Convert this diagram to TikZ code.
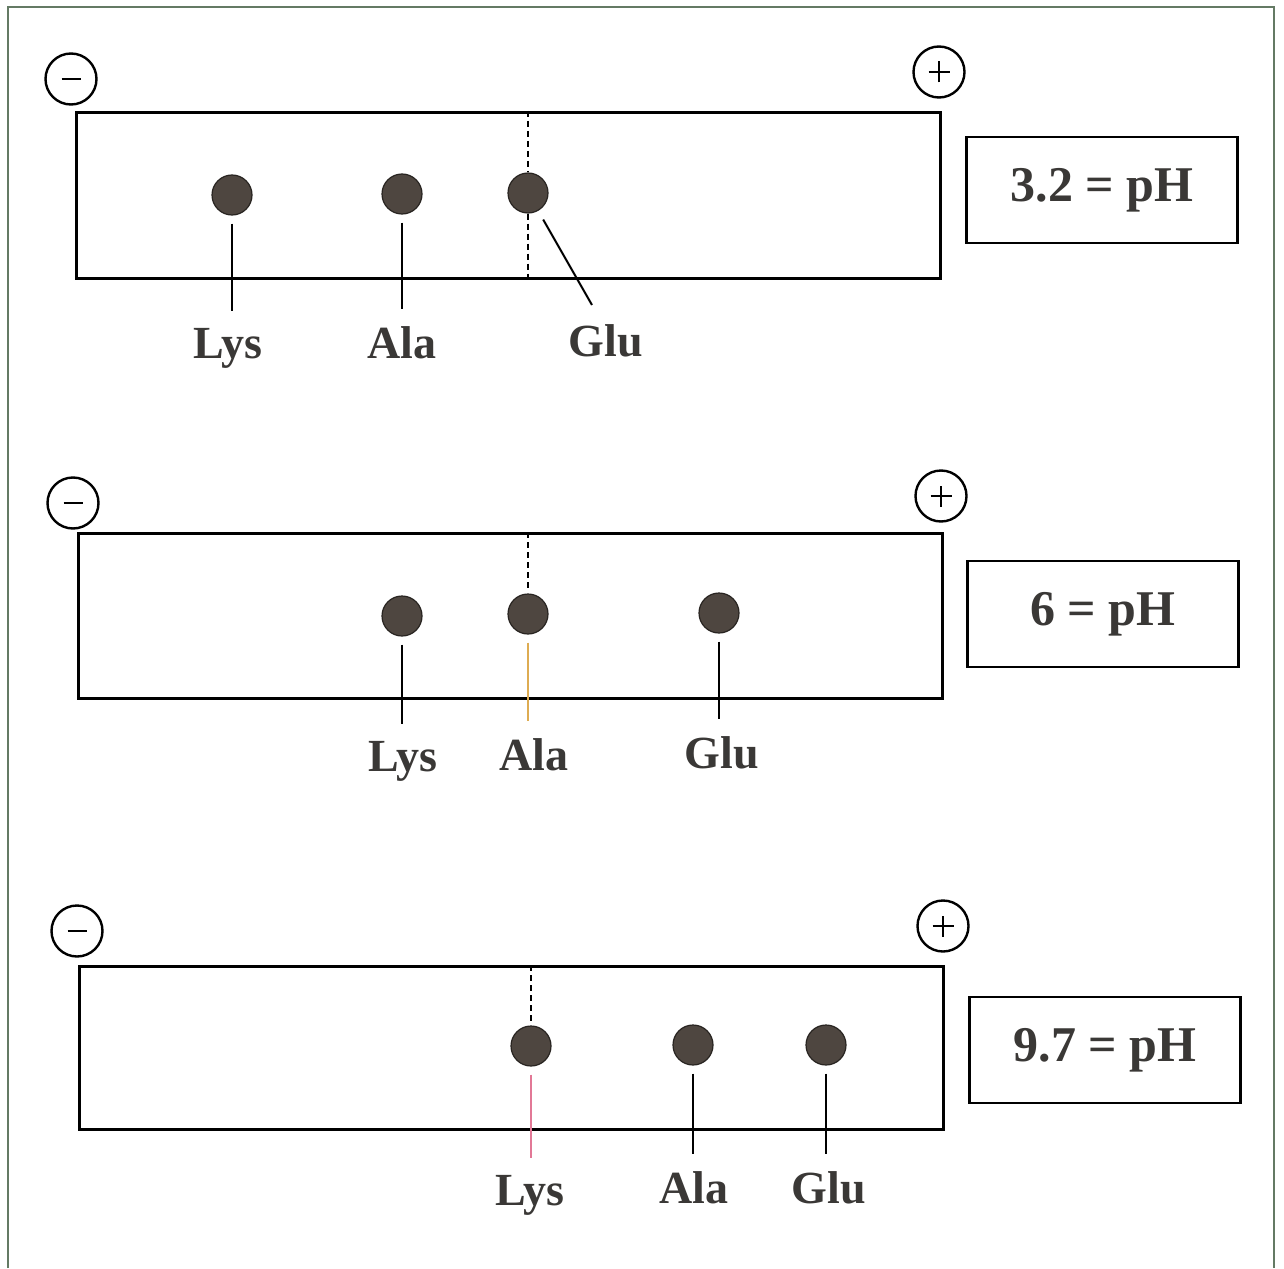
\documentclass[tikz,border=0pt]{standalone}
\usepackage{fontspec}
\setmainfont{Liberation Serif}
\definecolor{ink}{RGB}{58,56,54}
\definecolor{dotfill}{RGB}{78,70,64}
\definecolor{dotline}{RGB}{40,36,33}
\definecolor{framec}{RGB}{100,122,100}
\definecolor{orangel}{RGB}{222,172,82}
\definecolor{pinkl}{RGB}{226,120,150}
\begin{document}
\begin{tikzpicture}[x=1pt,y=-1pt,
  strip/.style={draw, line width=2.6pt, minimum width=864pt, inner sep=0pt, anchor=north west},
  phbox/.style={draw, line width=2.6pt, minimum width=271pt, minimum height=106pt, inner sep=0pt,
     font=\fontsize{50}{54}\selectfont\bfseries, text=ink},
  pole/.style={circle, draw, line width=2.4pt, minimum size=51pt, inner sep=0pt},
  sign/.style={line width=2.6pt},
  spot/.style={circle, fill=dotfill, draw=dotline, line width=1.2pt, minimum size=40pt, inner sep=0pt},
  lbl/.style={font=\fontsize{46}{50}\selectfont\bfseries, text=ink, inner sep=0pt, anchor=base},
  leader/.style={line width=2pt, shorten <=8pt, shorten >=17pt},
  iso/.style={line width=2.4pt, dash pattern=on 6pt off 4pt},
  frame/.style={draw=framec, line width=2.4pt}]
\useasboundingbox (0,0) rectangle (1284,1268);
\fill[white] (0,0) rectangle (1284,1268);
% outer frame
\draw[frame] (8,1268) -- (8,7) -- (1274,7) -- (1274,1268);

% ---------- panel 1 : pH 3.2 ----------
\node[strip, minimum height=166pt] (r1) at (75,111) {};
\node[pole] (m1) at (71,79) {};
\draw[sign] ([xshift=-9.5pt]m1.center) -- ([xshift=9.5pt]m1.center);
\node[pole] (p1) at (939,72) {};
\draw[sign, line width=2pt] ([xshift=-10.5pt]p1.center) -- ([xshift=10.5pt]p1.center)
  ([yshift=-10.5pt]p1.center) -- ([yshift=10.5pt]p1.center);
\node[phbox] (ph1) at (1102,190) {3.2 = pH};
\node[spot] (d11) at (232,195) {};
\node[spot] (d12) at (402,194) {};
\node[spot] (d13) at (528,193) {};
\draw[iso] (d13.north |- r1.north) -- (d13.north);
\draw[iso] (d13.south) -- (d13.south |- r1.south);
\node[lbl] (l11) at (228,358) {Lys};
\node[lbl] (l12) at (402,358) {Ala};
\node[lbl] (l13) at (606,356) {Glu};
\coordinate (g13) at (592,305);
\draw[leader] (d11.south) -- (d11.south |- l11.north);
\draw[leader] (d12.south) -- (d12.south |- l12.north);
\draw[line width=2pt, shorten <=10pt] (d13) -- (g13);

% ---------- panel 2 : pH 6 ----------
\node[strip, minimum height=165pt] (r2) at (77,532) {};
\node[pole] (m2) at (73,503) {};
\draw[sign] ([xshift=-9.5pt]m2.center) -- ([xshift=9.5pt]m2.center);
\node[pole] (p2) at (941,496) {};
\draw[sign, line width=2pt] ([xshift=-10.5pt]p2.center) -- ([xshift=10.5pt]p2.center)
  ([yshift=-10.5pt]p2.center) -- ([yshift=10.5pt]p2.center);
\node[phbox] (ph2) at (1103,614) {6 = pH};
\node[spot] (d21) at (402,616) {};
\node[spot] (d22) at (528,614) {};
\node[spot] (d23) at (719,613) {};
\draw[iso, shorten >=3pt] (d22.north |- r2.north) -- (d22.north);
\node[lbl] (l21) at (403,771) {Lys};
\node[lbl] (l22) at (534,770) {Ala};
\node[lbl] (l23) at (722,768) {Glu};
\draw[leader] (d21.south) -- (d21.south |- l21.north);
\draw[leader, draw=orangel] (d22.south) -- (d22.south |- l22.north);
\draw[leader] (d23.south) -- (d23.south |- l23.north);

% ---------- panel 3 : pH 9.7 ----------
\node[strip, minimum height=163pt] (r3) at (78,965) {};
\node[pole] (m3) at (77,931) {};
\draw[sign] ([xshift=-9.5pt]m3.center) -- ([xshift=9.5pt]m3.center);
\node[pole] (p3) at (943,926) {};
\draw[sign, line width=2pt] ([xshift=-10.5pt]p3.center) -- ([xshift=10.5pt]p3.center)
  ([yshift=-10.5pt]p3.center) -- ([yshift=10.5pt]p3.center);
\node[phbox] (ph3) at (1105,1050) {9.7 = pH};
\node[spot] (d31) at (531,1046) {};
\node[spot] (d32) at (693,1045) {};
\node[spot] (d33) at (826,1045) {};
\draw[iso, shorten >=3pt] (d31.north |- r3.north) -- (d31.north);
\node[lbl] (l31) at (530,1205) {Lys};
\node[lbl] (l32) at (694,1203) {Ala};
\node[lbl] (l33) at (829,1203) {Glu};
\draw[leader, draw=pinkl] (d31.south) -- (d31.south |- l31.north);
\draw[leader] (d32.south) -- (d32.south |- l32.north);
\draw[leader] (d33.south) -- (d33.south |- l33.north);
\end{tikzpicture}
\end{document}
